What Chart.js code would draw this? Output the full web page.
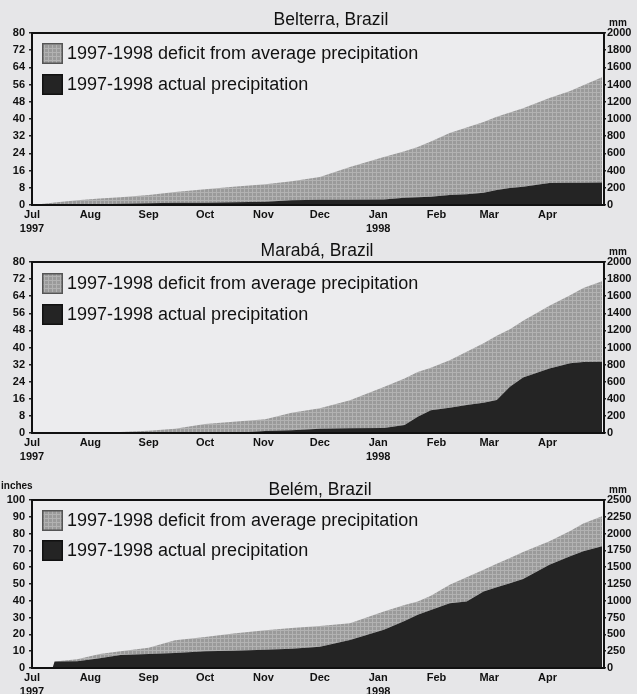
<!DOCTYPE html>
<html><head><meta charset="utf-8">
<script src="https://cdn.jsdelivr.net/npm/chart.js@4/dist/chart.umd.min.js"></script>
<style>
html,body{margin:0;padding:0;background:#e6e6e8;}
#wrap{position:relative;width:637px;height:694px;overflow:hidden;}
.c{position:absolute;left:0;width:637px;}
</style></head><body>
<div id="wrap">
<div class="c" style="top:0;height:232px"><canvas id="c1"></canvas></div>
<div class="c" style="top:232px;height:230px"><canvas id="c2"></canvas></div>
<div class="c" style="top:462px;height:232px"><canvas id="c3"></canvas></div>
</div>
<script>
// Days since 1 July 1997
const days = [0, 11, 12, 24, 36, 47, 62, 76, 92, 107, 124, 138, 153, 169, 187, 198, 205, 212, 222, 231, 240, 247, 254, 261, 275, 286, 293, 303];
// Cumulative precipitation, inches
const belterraAverage = [0, 1.1, 1.2, 2.2, 3.0, 3.6, 4.6, 6.0, 7.3, 8.5, 9.6, 11.0, 13.0, 17.7, 22.3, 25.0, 27.0, 29.5, 33.5, 36.0, 38.6, 41.0, 43.0, 45.0, 49.8, 53.0, 55.7, 59.5];
const belterraActual  = [0, 0, 0, 0.2, 0.4, 0.6, 0.8, 1.0, 1.1, 1.3, 1.5, 2.2, 2.5, 2.5, 2.6, 3.4, 3.6, 3.8, 4.6, 5.0, 5.7, 7.0, 7.9, 8.5, 10.2, 10.4, 10.4, 10.5];
const marabaAverage   = [0, 0, 0, 0, 0.2, 0.5, 1.1, 2.0, 4.2, 5.3, 6.4, 9.5, 11.6, 15.3, 21.5, 25.5, 28.5, 30.5, 34.0, 38.0, 42.0, 45.5, 48.5, 52.5, 59.5, 64.5, 67.8, 71.0];
const marabaActual    = [0, 0, 0, 0, 0, 0, 0, 0, 0, 0, 0.9, 1.3, 2.0, 2.2, 2.3, 3.7, 7.6, 10.7, 11.8, 13.1, 14.2, 15.4, 21.6, 26.0, 30.2, 32.6, 33.2, 33.3];
const belemAverage    = [0, 0.3, 3.8, 5.2, 8.4, 10.0, 12.0, 16.5, 18.5, 20.5, 22.5, 23.8, 25.0, 26.7, 33.6, 37.5, 39.6, 43.0, 49.6, 54.0, 58.5, 62.0, 65.5, 69.0, 75.4, 81.5, 86.0, 90.4];
const belemActual     = [0, 0.3, 3.8, 4.0, 5.8, 7.8, 8.4, 9.0, 9.9, 10.3, 10.8, 11.5, 12.7, 16.7, 22.7, 28.0, 31.7, 34.5, 38.6, 39.6, 45.6, 48.0, 50.5, 53.0, 61.5, 66.5, 69.5, 72.5];
// Axis ticks
const monthDays   = [0, 31, 62, 92, 123, 153, 184, 215, 243, 274];
const monthLabels = ['Jul', 'Aug', 'Sep', 'Oct', 'Nov', 'Dec', 'Jan', 'Feb', 'Mar', 'Apr'];
const yearLabels  = {0: '1997', 184: '1998'};
const legendLabels = ['1997-1998 deficit from average precipitation', '1997-1998 actual precipitation'];
const titles = ['Belterra, Brazil', 'Marabá, Brazil', 'Belém, Brazil'];

const FONT = '"Liberation Sans", Arial, sans-serif';

function makePattern(){
  const c = document.createElement('canvas'); c.width = 4; c.height = 4;
  const g = c.getContext('2d');
  g.fillStyle = '#9a9a9a'; g.fillRect(0,0,4,4);
  g.fillStyle = '#b2b2b2'; g.fillRect(0,0,4,1); g.fillRect(0,0,1,4);
  return g.createPattern(c, 'repeat');
}
const grayFill = makePattern();
const darkFill = '#242424';

const deco = {
  id: 'deco',
  beforeDraw(chart, args, o){
    const {ctx, chartArea: a} = chart;
    ctx.save();
    ctx.fillStyle = '#ececee';
    ctx.fillRect(a.left, a.top, a.right - a.left, a.bottom - a.top);
    ctx.restore();
  },
  afterDraw(chart, args, o){
    const {ctx, chartArea: a} = chart;
    ctx.save();
    // frame
    ctx.strokeStyle = '#111'; ctx.lineWidth = 2;
    ctx.strokeRect(a.left, a.top, a.right - a.left, a.bottom - a.top);
    // title
    ctx.fillStyle = '#111';
    ctx.font = '17.5px ' + FONT;
    ctx.textAlign = 'center'; ctx.textBaseline = 'middle';
    ctx.fillText(o.title, o.titleX, a.top - o.titleGap);
    // units
    ctx.font = 'bold 10px ' + FONT;
    ctx.textAlign = 'left';
    ctx.fillText('mm', 609, a.top - 10);
    if (o.inches) { ctx.fillText('inches', 1, a.top - 14); }
    // legend
    const items = [{fill: grayFill, stroke: '#555'}, {fill: darkFill, stroke: '#111'}];
    items.forEach((it, i) => {
      const bx = a.left + 10, by = a.top + o.legTop + i * o.legGap, s = 21;
      ctx.fillStyle = it.fill; ctx.fillRect(bx, by, s, s);
      ctx.strokeStyle = it.stroke; ctx.lineWidth = 1.5; ctx.strokeRect(bx + 0.75, by + 0.75, s - 1.5, s - 1.5);
      ctx.fillStyle = '#111'; ctx.font = '18px ' + FONT;
      ctx.textAlign = 'left'; ctx.textBaseline = 'middle';
      ctx.fillText(legendLabels[i], bx + 25, by + s / 2 + 1);
    });
    ctx.restore();
  }
};

function build(id, actual, average, yMax, yStep, mmMax, mmStep, padTop, xHeight, decoOpts){
  const tickFont = {family: FONT, size: 11, weight: 'bold'};
  return new Chart(document.getElementById(id), {
    type: 'line',
    data: {
      labels: days,
      datasets: [
        {label: legendLabels[1], data: days.map((d, i) => ({x: d, y: actual[i]})),
         backgroundColor: darkFill, borderColor: darkFill, borderWidth: 0, pointRadius: 0, fill: 'origin', yAxisID: 'y'},
        {label: legendLabels[0], data: days.map((d, i) => ({x: d, y: average[i]})),
         backgroundColor: grayFill, borderColor: '#8c8c8c', borderWidth: 0, pointRadius: 0, fill: '-1', yAxisID: 'y'}
      ]
    },
    options: {
      responsive: true, maintainAspectRatio: false, animation: false,
      layout: {padding: {top: padTop, left: 0, right: 0, bottom: 0}},
      plugins: {legend: {display: false}, tooltip: {enabled: false}, title: {display: false}, deco: decoOpts},
      scales: {
        x: {type: 'linear', min: 0, max: 304,
            afterBuildTicks: s => { s.ticks = monthDays.map(v => ({value: v})); },
            afterFit: s => { s.height = xHeight; },
            grid: {display: false, drawTicks: false}, border: {display: false},
            ticks: {autoSkip: false, maxRotation: 0, padding: 3, color: '#111',
                    font: {...tickFont, lineHeight: 1.25},
                    callback: v => { const i = monthDays.indexOf(v); if (i < 0) return ''; return yearLabels[v] ? [monthLabels[i], yearLabels[v]] : monthLabels[i]; }}},
        y: {position: 'left', min: 0, max: yMax,
            afterFit: s => { s.width = 32; },
            grid: {drawOnChartArea: false, drawTicks: true, tickLength: 3, color: '#222', lineWidth: 1.5}, border: {display: false},
            ticks: {stepSize: yStep, padding: 4, color: '#111', font: tickFont, callback: v => String(v)}},
        y2: {position: 'right', min: 0, max: mmMax,
            afterFit: s => { s.width = 33; },
            grid: {drawOnChartArea: false, drawTicks: true, tickLength: 2, color: '#222', lineWidth: 1.5}, border: {display: false},
            ticks: {stepSize: mmStep, padding: 1, color: '#111', font: tickFont, callback: v => String(v)}}
      }
    },
    plugins: [deco]
  });
}

build('c1', belterraActual, belterraAverage, 80, 8, 2000, 200, 33, 27,
      {title: titles[0], titleX: 331, titleGap: 13, legTop: 10, legGap: 31, inches: false});
build('c2', marabaActual, marabaAverage, 80, 8, 2000, 200, 30, 29,
      {title: titles[1], titleX: 317, titleGap: 11, legTop: 11, legGap: 31, inches: false});
build('c3', belemActual, belemAverage, 100, 10, 2500, 250, 38, 26,
      {title: titles[2], titleX: 320, titleGap: 10, legTop: 10, legGap: 30, inches: true});
</script>
</body></html>
